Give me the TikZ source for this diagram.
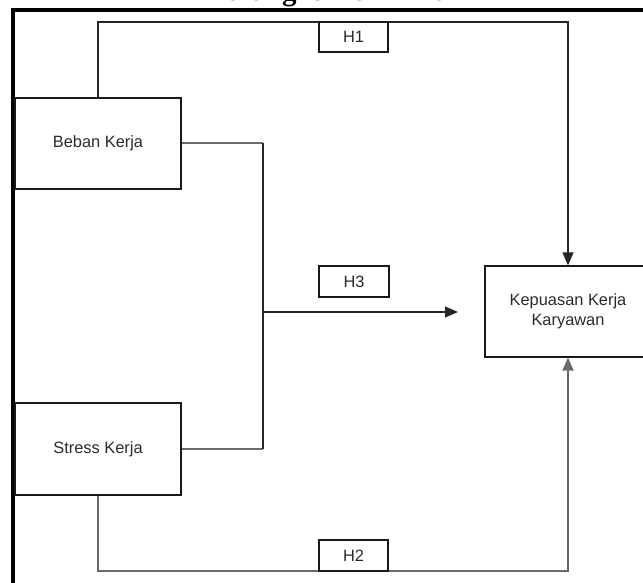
\documentclass[tikz,border=0pt]{standalone}
\usepackage{fontspec}
\setmainfont{Liberation Sans}
\newfontfamily\titlefont{Liberation Serif}
\usetikzlibrary{arrows.meta}
\definecolor{txtgray}{HTML}{2A2A2A}
\definecolor{linegray}{HTML}{6A6A6A}
\begin{document}
\begin{tikzpicture}[x=1pt,y=-1pt,
  varbox/.style={draw=black!90,line width=1.3pt,minimum width=166pt,minimum height=91pt,inner sep=0pt,text=txtgray,font=\fontsize{16.4}{20}\selectfont,align=center},
  hbox/.style={draw=black!90,line width=1.3pt,fill=white,minimum width=69pt,minimum height=30pt,inner sep=0pt,text=txtgray,font=\fontsize{16.4}{20}\selectfont},
  conn/.style={line width=1.2pt,draw=black!85},
  gconn/.style={line width=2pt,draw=linegray},
  tip/.style={-{Triangle[length=13pt,width=11pt]}}
]
\useasboundingbox (0,0) rectangle (643,583);
% title and border
\node[font=\titlefont\bfseries\fontsize{29}{34}\selectfont,anchor=base] (title) at (334,1) {Kerangka Pemikiran};
\draw[line width=3.6pt] (13,583) -- (13,10) -- (643,10);
% variables
\node[varbox] (beban) at (98,143.5) {Beban Kerja};
\node[varbox,minimum height=92pt] (stress) at (98,449) {Stress Kerja};
\node[varbox] (kep) at (568,311.5) {Kepuasan Kerja\\Karyawan};
% H1
\draw[conn,tip] (beban.north) |- (353.5,22) -| (kep.north);
\node[hbox] (h1) at (353.5,37) {H1};
% H3
\coordinate (j) at (263,312);
\coordinate (a3) at (458,312);
\draw[gconn] (beban.east) -- (263,143.5);
\draw[gconn] (stress.east) -- (263,449);
\draw[conn] (263,143.5) -- (263,449);
\draw[conn,tip] (j) -- (a3);
\node[hbox,minimum width=70pt,minimum height=31pt] (h3) at (354,281.5) {H3};
% H2
\draw[gconn,tip] (stress.south) |- (353.5,571) -| (kep.south);
\node[hbox,minimum height=31pt] (h2) at (353.5,555.5) {H2};
\end{tikzpicture}
\end{document}
